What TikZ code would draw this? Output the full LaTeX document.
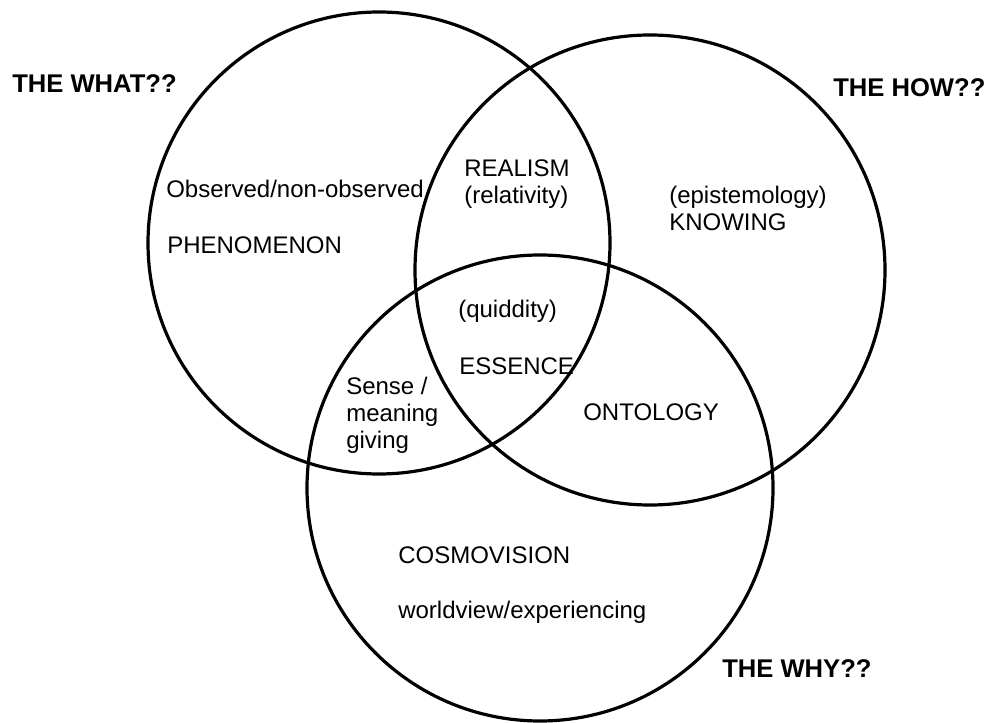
\documentclass[tikz,border=0pt]{standalone}
\usepackage{fontspec}
\setmainfont{Liberation Sans}
\usetikzlibrary{positioning}
\tikzstyle{ring}=[draw, circle, line width=2.4pt, inner sep=0pt]
\tikzstyle{lbl}=[inner sep=0pt, anchor=base west, font=\fontsize{18}{20}\selectfont]
\tikzstyle{title}=[inner sep=0pt, anchor=base west, font=\fontsize{19.2}{22}\selectfont\bfseries]
\tikzset{nextline/.style={below=19.9pt of #1.base west, anchor=base west}}

\begin{document}
\begin{tikzpicture}[x=0.75pt, y=-0.75pt]
    \useasboundingbox (0,0) rectangle (993,723);
    % the three sets
    \node [ring, minimum size=346.5pt] (what) at (379,243) {};
    \node [ring, minimum size=352.5pt] (how) at (650,270) {};
    \node [ring, minimum size=349.5pt] (why) at (540,488) {};

    % questions
    \node [title] (whatq) at (12,93) {THE WHAT??};
    \node [title] (howq) at (833,97) {THE HOW??};
    \node [title] (whyq) at (722,677) {THE WHY??};

    % labels inside the sets
    \node [lbl] (observed) at (166,198) {Observed/non-observed};
    \node [lbl] (phenomenon) at (167,254) {PHENOMENON};
    \node [lbl] (realism) at (464,177) {REALISM};
    \node [lbl, nextline=realism] (relativity) {(relativity)};
    \node [lbl] (epistemology) at (669,204) {(epistemology)};
    \node [lbl, nextline=epistemology] (knowing) {KNOWING};
    \node [lbl] (quiddity) at (458,318) {(quiddity)};
    \node [lbl] (essence) at (459,375) {ESSENCE};
    \node [lbl] (sense) at (346,395) {Sense /};
    \node [lbl, nextline=sense] (meaning) {meaning};
    \node [lbl, nextline=meaning] (giving) {giving};
    \node [lbl] (ontology) at (583,421) {ONTOLOGY};
    \node [lbl] (cosmovision) at (398,563) {COSMOVISION};
    \node [lbl] (worldview) at (398,618) {worldview/experiencing};
\end{tikzpicture}
\end{document}
